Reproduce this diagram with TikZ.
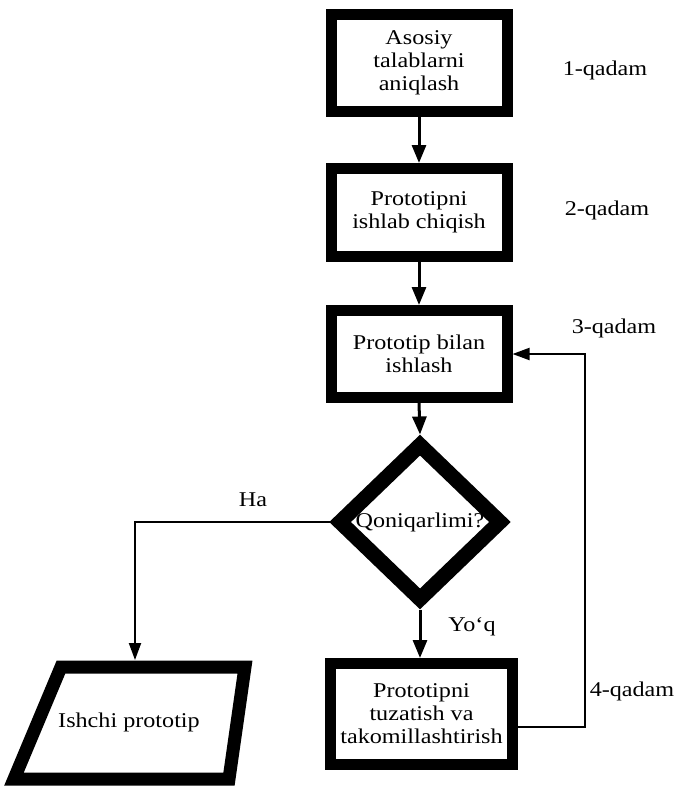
\documentclass[tikz,border=0pt]{standalone}
\usepackage{fontspec}
\setmainfont[FakeStretch=1.15]{Liberation Serif}
\usetikzlibrary{shapes.geometric,arrows.meta}
\begin{document}
\begin{tikzpicture}[x=1pt,y=-1pt,
  stepbox/.style={draw=black,line width=11pt,align=center,inner sep=0pt,font=\fontsize{21}{23}\selectfont},
  lbl/.style={font=\fontsize{21}{23}\selectfont,inner sep=0pt},
  conn/.style={line width=3pt,-{Triangle[width=14pt,length=18pt]}},
  thin/.style={line width=2pt,-{Triangle[width=12pt,length=17pt]}}]
\useasboundingbox (0,0) rectangle (676,788);
\node[stepbox,minimum width=176pt,minimum height=97pt] (b1) at (419,63) {Asosiy\\talablarni\\aniqlash};
\node[stepbox,minimum width=176pt,minimum height=88pt] (b2) at (419,212.5) {Prototipni\\ishlab chiqish};
\node[stepbox,minimum width=176pt,minimum height=87pt] (b3) at (419,354) {Prototip bilan\\ishlash};
\node[diamond,draw=black,line width=15pt,minimum width=166pt,minimum height=160pt,inner sep=0pt,font=\fontsize{21}{23}\selectfont] (q) at (420,522) {Qoniqarlimi?};
\node[stepbox,minimum width=182pt,minimum height=101pt] (b5) at (421.5,714) {Prototipni\\tuzatish va\\takomillashtirish};
% parallelogram output
\draw[line width=13pt,line join=miter] (61,667) -- (245,667) -- (229,779) -- (14,779) -- cycle;
\node[lbl] (out) at (129,722) {Ishchi prototip};
\coordinate (outtop) at (135,660);
\coordinate (fbA) at (585,727);
\coordinate (fbB) at (585,354);
% connectors
\draw[conn] (b1.south) -- (b2.north);
\draw[conn] (b2.south) -- (b3.north);
\draw[conn] (b3.south) -- (q.north);
\draw[conn] (q.south) -- (q.south |- b5.north);
\draw[thin] (q.west) -| (outtop);
\draw[thin] ([yshift=-13pt]b5.east) -- (fbA) -- (fbB) -- (b3.east);
% labels
\node[lbl] (l1) at (605,70) {1-qadam};
\node[lbl] (l2) at (607,210) {2-qadam};
\node[lbl] (l3) at (614,328) {3-qadam};
\node[lbl] (l4) at (632,691) {4-qadam};
\node[lbl] (ha) at (253,500) {Ha};
\node[lbl] (yoq) at (472,627) {Yo‘q};
\end{tikzpicture}
\end{document}
